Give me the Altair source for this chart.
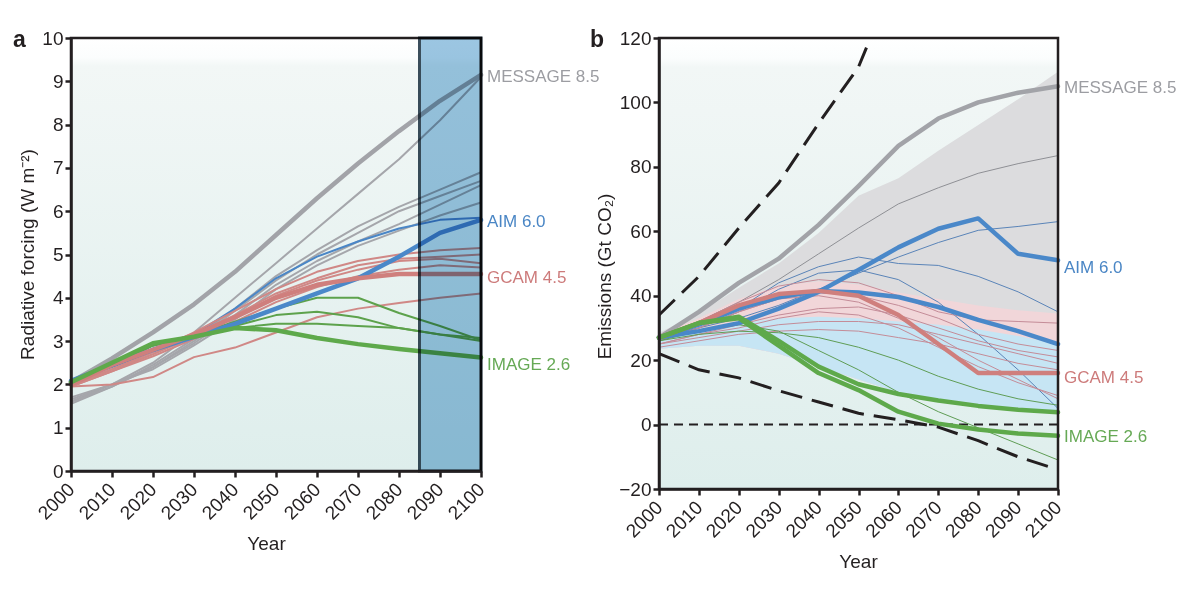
import altair as alt
import pandas as pd

FONT = "Liberation Sans"
INK = "#231f20"

YEARS = list(range(2000, 2101, 10))

# ---------------- Panel a: radiative forcing (W m-2) ----------------
A_THICK = {
    "MESSAGE": [2.05, 2.6, 3.2, 3.85, 4.6, 5.45, 6.3, 7.1, 7.85, 8.55, 9.15],
    "AIM": [2.08, 2.45, 2.8, 3.1, 3.4, 3.75, 4.1, 4.45, 4.95, 5.5, 5.8],
    "GCAM": [2.0, 2.45, 2.8, 3.15, 3.55, 4.0, 4.3, 4.45, 4.55, 4.55, 4.55],
    "IMAGE": [2.05, 2.5, 2.95, 3.1, 3.3, 3.25, 3.07, 2.93, 2.82, 2.72, 2.62],
}
A_THIN_MESSAGE = [
    [1.6, 2.0, 2.5, 3.2, 4.0, 4.8, 5.6, 6.4, 7.2, 8.1, 9.1],
    [1.55, 1.95, 2.45, 3.05, 3.75, 4.5, 5.1, 5.65, 6.1, 6.5, 6.9],
    [1.6, 1.95, 2.4, 3.0, 3.7, 4.4, 5.0, 5.5, 6.0, 6.35, 6.7],
    [1.65, 2.0, 2.4, 2.95, 3.6, 4.3, 4.85, 5.3, 5.7, 6.15, 6.6],
    [1.7, 2.0, 2.35, 2.9, 3.5, 4.2, 4.75, 5.2, 5.55, 5.9, 6.2],
]
A_THIN_AIM = [
    [2.05, 2.4, 2.75, 3.15, 3.75, 4.45, 4.95, 5.3, 5.6, 5.8, 5.85],
]
A_THIN_GCAM = [
    [1.95, 2.35, 2.75, 3.2, 3.7, 4.2, 4.6, 4.85, 5.0, 5.1, 5.15],
    [1.95, 2.3, 2.7, 3.15, 3.6, 4.1, 4.45, 4.75, 4.9, 4.95, 5.0],
    [2.0, 2.35, 2.7, 3.1, 3.55, 4.05, 4.4, 4.65, 4.85, 4.9, 4.8],
    [1.95, 2.3, 2.65, 3.05, 3.45, 3.9, 4.25, 4.5, 4.65, 4.75, 4.7],
    [1.95, 2.0, 2.17, 2.63, 2.85, 3.2, 3.55, 3.75, 3.88, 4.0, 4.1],
]
A_THIN_IMAGE = [
    [2.05, 2.45, 2.9, 3.15, 3.45, 3.75, 4.0, 4.0, 3.65, 3.35, 3.02],
    [2.05, 2.45, 2.9, 3.1, 3.35, 3.6, 3.68, 3.55, 3.3, 3.15, 3.07],
    [2.05, 2.45, 2.9, 3.1, 3.3, 3.4, 3.4, 3.35, 3.3, 3.15, 3.0],
]
A_HIGHLIGHT = {"start": 2085, "end": 2100}
A_LABELS = ["MESSAGE 8.5", "AIM 6.0", "GCAM 4.5", "IMAGE 2.6"]
A_LABEL_VALUES = [9.1, 5.75, 4.45, 2.45]

# ---------------- Panel b: emissions (Gt CO2) ----------------
B_THICK = {
    "MESSAGE": [[27, 35, 44, 51.5, 62, 74, 86.5, 95, 100, 103, 105]],
    "AIM": [[27, 29, 31.5, 36, 41.2, 48, 55, 60.8, 64, 53, 51],
            [27, 31, 36, 39.5, 41.5, 41, 39.6, 36.5, 32.5, 29, 25]],
    "GCAM": [[27, 31.5, 37, 40.5, 41.5, 40, 34, 25, 16, 16, 16]],
    "IMAGE": [[27, 31.5, 33, 24.5, 16, 10.7, 4, 0.3, -1.5, -2.8, -3.5],
              [27, 31.5, 33.5, 26, 18, 12.5, 9.5, 7.5, 5.8, 4.6, 3.8]],
}
B_THIN_MESSAGE = [
    [27, 32, 38, 45, 53, 61, 68.5, 73.5, 78, 81, 83.5],
]
B_THIN_AIM = [
    [27, 30, 33, 37, 42, 47, 52, 56.5, 60.3, 61.5, 63],
    [27, 31, 36, 44, 49, 52, 50, 49.4, 46, 41.2, 35],
    [26, 30, 35, 42, 47, 48, 45, 38, 28, 17, 5],
]
B_THIN_GCAM = [
    [27, 32, 38, 43, 45, 44, 40, 35, 32.5, 32, 31.5],
    [26, 30, 35, 39, 41, 40, 37, 33, 28, 25, 23],
    [25, 28, 31, 34, 36, 36.5, 34, 30, 26, 23, 21],
    [25, 27, 29, 31, 32, 32, 31, 28, 25, 22, 19],
    [24, 26, 28, 29, 29.5, 29, 27, 25, 22, 19, 17],
    [26, 30, 35, 39, 40, 38, 33, 27, 20, 14, 8],
    [25, 28, 30, 33, 35, 34, 30, 24, 18, 13, 9],
]
B_THIN_IMAGE = [
    [26, 29, 31, 29, 23, 17, 10, 4, -1, -6, -11],
    [26, 28, 29, 28.5, 27, 24, 20, 15, 11, 8, 6],
]
B_RANGE_GRAY_UP = [28.5, 34.5, 42.5, 50, 59.5, 71, 76.5, 85, 93, 101, 109.5]
B_RANGE_PINK_UP = [28, 33, 39, 43, 44.5, 43.5, 41, 39, 37, 35.5, 34.5]
B_RANGE_BLUE_UP = [27, 29.5, 31.5, 33, 33.5, 33, 32, 31, 29.5, 27.5, 25]
B_RANGE_LOW = [23.5, 24.5, 24.5, 22, 18, 14, 10, 7.5, 5.5, 4.5, 3.5]
B_UPPER_DASH_YEARS = [2000, 2010, 2020, 2030, 2040, 2050, 2052]
B_UPPER_DASH = [34, 46, 61, 75, 93.5, 111, 117]
B_LOWER_DASH = [22, 17, 14.5, 10.5, 7, 3.5, 1.5, -0.8, -5, -10, -14]
B_LABELS = ["MESSAGE 8.5", "AIM 6.0", "GCAM 4.5", "IMAGE 2.6"]
B_LABEL_VALUES = [104.5, 48.5, 14.5, -4]

# ---------------- styling ----------------
LABEL_MODELS = ["MESSAGE", "AIM", "GCAM", "IMAGE"]
PAL_THICK = {"MESSAGE": "#a2a3a8", "AIM": "#4a88c9", "GCAM": "#cf7f7d", "IMAGE": "#5ea94b"}
PAL_THIN_A = {"MESSAGE": "#a5a6ab", "AIM": "#4a86c6", "GCAM": "#d08886", "IMAGE": "#5da24c"}
PAL_THIN_B = {"MESSAGE": "#8f9095", "AIM": "#5a84b8", "GCAM": "#c48c98", "IMAGE": "#5f9d55"}
PAL_LABEL = {"MESSAGE": "#9c9da2", "AIM": "#4a86c5", "GCAM": "#cd7b7b", "IMAGE": "#66a955"}

BG_GRADIENT = {
    "gradient": "linear", "x1": 0, "x2": 0, "y1": 0, "y2": 1,
    "stops": [
        {"offset": 0, "color": "#ffffff"},
        {"offset": 0.045, "color": "#fbfdfd"},
        {"offset": 0.065, "color": "#f2f7f6"},
        {"offset": 1, "color": "#deeeec"},
    ],
}


def frame_lines(groups, years=YEARS):
    rows = []
    for model, series_list in groups.items():
        for i, vals in enumerate(series_list):
            for yr, v in zip(years, vals):
                rows.append({"year": yr, "value": v, "model": model,
                             "series": f"{model}-{i}"})
    return pd.DataFrame(rows)


def make_panel(ydom, yvals, ytitle, width, height, letter, letter_dx,
               thin_df, thick_df, thin_pal, thick_w, thin_w,
               labels, label_vals, x_title_x, y_title_y,
               extra_back=(), extra_front=(), extra_top=()):
    xscale = alt.Scale(domain=[2000, 2100], nice=False, zero=False)
    yscale = alt.Scale(domain=ydom, nice=False, zero=False)
    xaxis = alt.Axis(values=YEARS, format="d", labelAngle=315, labelAlign="right",
                     labelBaseline="middle", title="Year", labelPadding=9,
                     labelOverlap=False, labelBound=False, labelFlush=False,
                     titlePadding=12, titleX=x_title_x, zindex=2)
    yaxis = alt.Axis(values=yvals, title=ytitle, labelPadding=2, titlePadding=4,
                     titleY=y_title_y, labelOverlap=False, zindex=2)

    def X(f):
        return alt.X(f, type="quantitative", scale=xscale, axis=xaxis)

    def Y(f):
        return alt.Y(f, type="quantitative", scale=yscale, axis=yaxis)

    bg = pd.DataFrame({"x1": [2000], "x2": [2100], "y1": [ydom[0]], "y2": [ydom[1]]})
    bg_layer = alt.Chart(bg).mark_rect(color=BG_GRADIENT).encode(
        x=X("x1"), x2="x2", y=Y("y1"), y2="y2")
    frame_layer = alt.Chart(bg).mark_rect(
        fillOpacity=0, stroke=INK, strokeWidth=2.5).encode(
        x=X("x1"), x2="x2", y=Y("y1"), y2="y2")

    def lines(df, pal, w):
        d = df.copy()
        d["c"] = d["model"].map(pal)
        return alt.Chart(d).mark_line(strokeWidth=w, strokeCap="round",
                                      strokeJoin="round").encode(
            x=X("year"), y=Y("value"), color=alt.Color("c:N", scale=None),
            detail="series:N")

    lab = pd.DataFrame({"year": [2100] * len(labels), "value": label_vals,
                        "text": labels,
                        "c": [PAL_LABEL[m] for m in LABEL_MODELS]})
    label_layer = alt.Chart(lab).mark_text(
        align="left", baseline="middle", dx=6, fontSize=17, font=FONT).encode(
        x=X("year"), y=Y("value"), text="text:N",
        color=alt.Color("c:N", scale=None))

    letter_layer = alt.Chart(pd.DataFrame({"t": [letter]})).mark_text(
        align="left", baseline="middle", fontSize=23, fontWeight="bold",
        font=FONT, color=INK).encode(
        x=alt.value(letter_dx), y=alt.value(2), text="t:N")

    layers = [bg_layer]
    layers += [f(X, Y) for f in extra_back]
    layers += [lines(thin_df, thin_pal, thin_w), lines(thick_df, PAL_THICK, thick_w)]
    layers += [f(X, Y) for f in extra_front]
    layers += [frame_layer]
    layers += [f(X, Y) for f in extra_top]
    layers += [label_layer, letter_layer]
    return alt.layer(*layers).properties(width=width, height=height)


# ---- panel a extras ----
def a_highlight(X, Y):
    d = pd.DataFrame({"x1": [A_HIGHLIGHT["start"]], "x2": [A_HIGHLIGHT["end"]],
                      "y1": [0], "y2": [10]})
    return alt.Chart(d).mark_rect(fill="#9cc6e2", stroke="#3b4e5c", strokeWidth=3,
                                  blend="multiply").encode(
        x=X("x1"), x2="x2", y=Y("y1"), y2="y2")


# ---- panel b extras ----
def b_areas_factory(up, color):
    def f(X, Y):
        d = pd.DataFrame({"year": YEARS, "lo": B_RANGE_LOW, "up": up})
        return alt.Chart(d).mark_area(color=color, opacity=1).encode(
            x=X("year"), y=Y("lo"), y2="up")
    return f


def b_zero(X, Y):
    d = pd.DataFrame({"x1": [2000], "x2": [2100], "y": [0]})
    return alt.Chart(d).mark_rule(color=INK, strokeWidth=2,
                                  strokeDash=[9, 6]).encode(
        x=X("x1"), x2="x2", y=Y("y"))


def b_dashes(X, Y):
    d1 = pd.DataFrame({"year": B_UPPER_DASH_YEARS, "value": B_UPPER_DASH, "s": "up"})
    d2 = pd.DataFrame({"year": YEARS, "value": B_LOWER_DASH, "s": "low"})
    d = pd.concat([d1, d2])
    return alt.Chart(d).mark_line(color=INK, strokeWidth=3, strokeDash=[22, 10]).encode(
        x=X("year"), y=Y("value"), detail="s:N")


a_thin = frame_lines({"MESSAGE": A_THIN_MESSAGE, "AIM": A_THIN_AIM,
                      "GCAM": A_THIN_GCAM, "IMAGE": A_THIN_IMAGE})
a_thick = frame_lines({k: [v] for k, v in A_THICK.items()})
b_thin = frame_lines({"MESSAGE": B_THIN_MESSAGE, "AIM": B_THIN_AIM,
                      "GCAM": B_THIN_GCAM, "IMAGE": B_THIN_IMAGE})
b_thick = frame_lines(B_THICK)

panel_a = make_panel([0, 10], list(range(0, 11)), "Radiative forcing (W m⁻²)",
                     410, 433, "a", -58, a_thin, a_thick, PAL_THIN_A, 4.5, 2,
                     A_LABELS, A_LABEL_VALUES, 195, 216,
                     extra_top=[a_highlight])

panel_b = make_panel([-20, 120], list(range(-20, 121, 20)), "Emissions (Gt CO₂)",
                     399, 451, "b", -69, b_thin, b_thick, PAL_THIN_B, 4.5, 1,
                     B_LABELS, B_LABEL_VALUES, 199, 238,
                     extra_back=[b_areas_factory(B_RANGE_GRAY_UP, "#dcdcde"),
                                 b_areas_factory(B_RANGE_PINK_UP, "#f1d6d9"),
                                 b_areas_factory(B_RANGE_BLUE_UP, "#c6e5f4"),
                                 b_zero],
                     extra_front=[b_dashes])

chart = alt.hconcat(panel_a, panel_b, spacing=178, bounds="flush").properties(
    padding={"left": 5, "top": 21, "right": 5, "bottom": 5}
).configure_view(stroke=None).configure_axis(
    labelFont=FONT, titleFont=FONT, labelFontSize=19, titleFontSize=19,
    labelColor=INK, titleColor=INK, domainColor=INK, tickColor=INK,
    domainWidth=2.5, tickWidth=2.5, tickSize=6, grid=False,
    titleFontWeight="normal")

chart.save("out.html", embed_options={"renderer": "svg", "actions": False})
